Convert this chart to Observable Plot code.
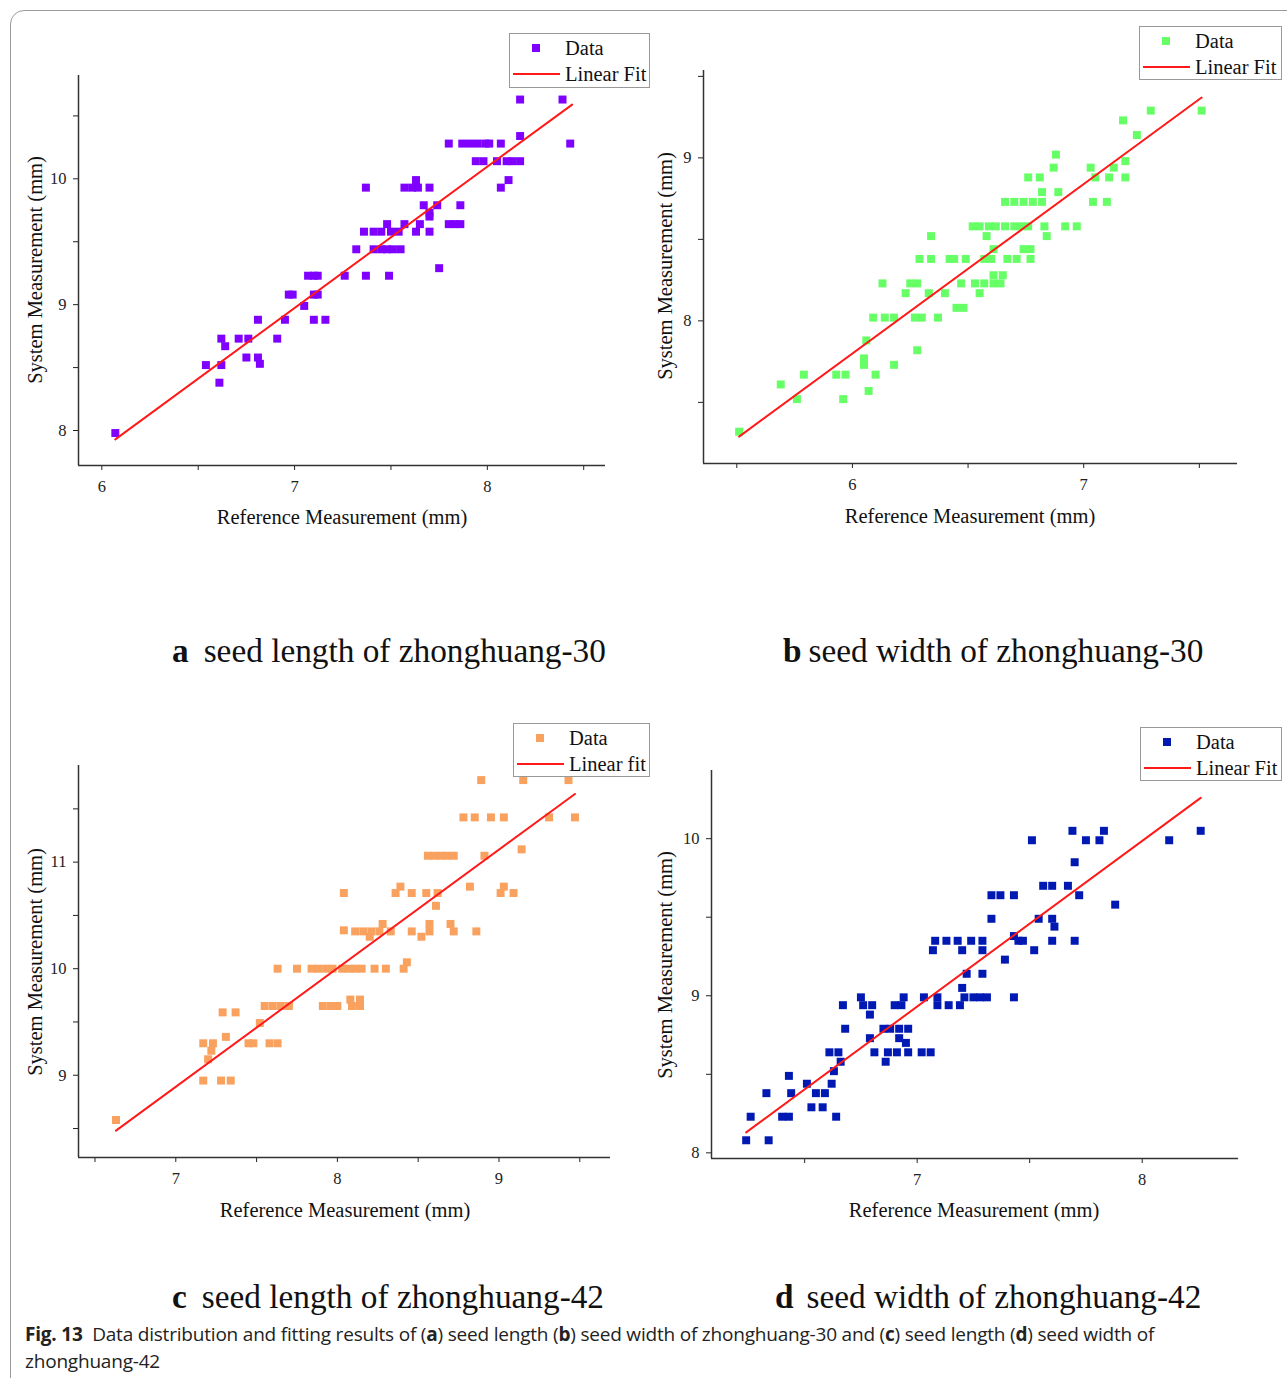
<!DOCTYPE html>
<html>
<head>
<meta charset="utf-8">
<script src="https://cdn.jsdelivr.net/npm/d3@7"></script>
<script src="https://cdn.jsdelivr.net/npm/@observablehq/plot@0.6"></script>
<style>
  html, body { margin: 0; padding: 0; background: #fff; }
  body { width: 1287px; height: 1378px; position: relative; overflow: hidden; }
  .abs { position: absolute; }
  .serif { font-family: "Liberation Serif", "Times New Roman", serif; color: #111; }
  .ctr { transform: translate(-50%, -50%); white-space: nowrap; }
  .legend { position: absolute; border: 1px solid #999; background: #fff; box-sizing: border-box; }
  .plotwrap svg { background: transparent !important; max-width: none !important; overflow: visible !important; }
  .plotwrap svg text { font-family: "Liberation Serif", "Times New Roman", serif !important; font-size: 16.5px !important; fill: #222; }
</style>
</head>
<body>
<div class="abs" style="left:10px;top:10px;width:1300px;height:1400px;border:1px solid #9a9a9a;border-radius:14px;box-sizing:border-box;"></div>
<script>
// ---------------- DATA ----------------
// Panel a: seed length of zhonghuang-30
const aRef = [6.07,6.54,6.62,6.64,6.62,6.61,6.71,6.76,6.75,6.81,6.81,6.82,6.91,6.95,6.97,6.99,7.05,7.07,7.10,7.12,7.10,7.12,7.10,7.16,7.26,7.37,7.49,7.75,7.32,7.41,7.45,7.48,7.51,7.55,7.36,7.41,7.45,7.50,7.54,7.48,7.57,7.63,7.65,7.70,7.70,7.70,7.67,7.74,7.80,7.83,7.86,7.86,7.37,7.57,7.61,7.64,7.63,7.70,7.80,7.87,7.91,7.95,7.99,8.01,8.07,7.94,7.98,8.05,8.10,8.13,8.17,8.07,8.11,8.17,8.17,8.39,8.43];
const aSys = [7.98,8.52,8.73,8.67,8.52,8.38,8.73,8.73,8.58,8.88,8.58,8.53,8.73,8.88,9.08,9.08,8.99,9.23,9.23,9.23,9.08,9.08,8.88,8.88,9.23,9.23,9.23,9.29,9.44,9.44,9.44,9.44,9.44,9.44,9.58,9.58,9.58,9.58,9.58,9.64,9.64,9.58,9.64,9.58,9.70,9.73,9.79,9.79,9.64,9.64,9.64,9.79,9.93,9.93,9.93,9.93,9.99,9.93,10.28,10.28,10.28,10.28,10.28,10.28,10.28,10.14,10.14,10.14,10.14,10.14,10.14,9.93,9.99,10.34,10.63,10.63,10.28];
const aFitRef = [6.07, 8.44];
const aFitSys = [7.93, 10.59];
const aXTicks = [6, 6.5, 7, 7.5, 8, 8.5];
const aYTicks = [8, 8.5, 9, 9.5, 10, 10.5];

// Panel b: seed width of zhonghuang-30
const bRef = [5.51,5.69,5.76,5.79,5.93,5.97,5.96,6.05,6.05,6.06,6.07,6.10,6.18,6.09,6.14,6.18,6.27,6.30,6.37,6.28,6.13,6.23,6.25,6.28,6.33,6.40,6.29,6.34,6.34,6.42,6.44,6.49,6.47,6.45,6.48,6.55,6.53,6.57,6.61,6.64,6.61,6.65,6.57,6.60,6.67,6.71,6.77,6.74,6.77,6.61,6.58,6.52,6.55,6.59,6.62,6.66,6.70,6.73,6.76,6.83,6.84,6.92,6.97,6.66,6.70,6.74,6.78,6.82,6.82,6.89,6.76,6.81,6.87,6.88,7.03,7.05,7.04,7.10,7.11,7.13,7.18,7.18,7.23,7.17,7.29,7.51];
const bSys = [7.32,7.61,7.52,7.67,7.67,7.67,7.52,7.77,7.73,7.88,7.57,7.67,7.73,8.02,8.02,8.02,8.02,8.02,8.02,7.82,8.23,8.17,8.23,8.23,8.17,8.17,8.38,8.38,8.52,8.38,8.38,8.38,8.23,8.08,8.08,8.17,8.23,8.23,8.23,8.23,8.28,8.28,8.38,8.38,8.38,8.38,8.38,8.44,8.44,8.44,8.52,8.58,8.58,8.58,8.58,8.58,8.58,8.58,8.58,8.58,8.52,8.58,8.58,8.73,8.73,8.73,8.73,8.73,8.79,8.79,8.88,8.88,8.94,9.02,8.94,8.88,8.73,8.73,8.88,8.94,8.98,8.88,9.14,9.23,9.29,9.29];
const bFitRef = [5.51, 7.51];
const bFitSys = [7.29, 9.37];
const bXTicks = [5.5, 6, 6.5, 7, 7.5];
const bYTicks = [7.5, 8, 8.5, 9, 9.5];

// Panel c: seed length of zhonghuang-42
const cRef = [6.63,7.17,7.28,7.34,7.17,7.23,7.22,7.20,7.31,7.29,7.37,7.45,7.48,7.52,7.58,7.63,7.55,7.60,7.65,7.70,7.91,7.96,8.00,7.63,7.75,7.84,7.88,7.93,7.97,8.03,8.07,8.11,8.15,8.04,8.04,8.08,8.14,8.09,8.14,8.23,8.30,8.41,8.43,8.11,8.16,8.21,8.26,8.33,8.20,8.28,8.46,8.52,8.57,8.57,8.70,8.72,8.86,8.36,8.39,8.46,8.55,8.62,8.61,8.82,9.01,9.03,9.09,8.56,8.60,8.64,8.68,8.72,8.91,9.14,8.78,8.85,8.95,9.03,9.31,9.47,8.89,9.15,9.43];
const cSys = [8.58,8.95,8.95,8.95,9.30,9.30,9.23,9.15,9.36,9.59,9.59,9.30,9.30,9.49,9.30,9.30,9.65,9.65,9.65,9.65,9.65,9.65,9.65,10.00,10.00,10.00,10.00,10.00,10.00,10.00,10.00,10.00,10.00,10.36,10.71,9.71,9.71,9.65,9.65,10.00,10.00,10.00,10.06,10.35,10.35,10.35,10.35,10.35,10.30,10.42,10.35,10.30,10.42,10.35,10.42,10.35,10.35,10.71,10.77,10.71,10.71,10.71,10.59,10.77,10.71,10.77,10.71,11.06,11.06,11.06,11.06,11.06,11.06,11.12,11.42,11.42,11.42,11.42,11.42,11.42,11.77,11.77,11.77];
const cFitRef = [6.63, 9.47];
const cFitSys = [8.48, 11.64];
const cXTicks = [6.5, 7, 7.5, 8, 8.5, 9, 9.5];
const cYTicks = [8.5, 9, 9.5, 10, 10.5, 11, 11.5];

// Panel d: seed width of zhonghuang-42
const dRef = [6.24,6.34,6.26,6.33,6.40,6.43,6.43,6.44,6.51,6.53,6.55,6.59,6.58,6.64,6.62,6.63,6.66,6.61,6.65,6.68,6.67,6.75,6.76,6.80,6.79,6.79,6.81,6.87,6.86,6.85,6.88,6.91,6.90,6.93,6.94,6.92,6.96,6.92,6.95,6.96,7.02,7.06,7.03,7.09,7.09,7.14,7.19,7.20,7.22,7.07,7.08,7.13,7.18,7.20,7.21,7.25,7.28,7.31,7.43,7.29,7.29,7.24,7.29,7.39,7.43,7.45,7.47,7.52,7.60,7.70,7.33,7.54,7.60,7.61,7.33,7.37,7.43,7.88,7.56,7.60,7.67,7.72,7.70,7.51,7.69,7.75,7.81,7.83,8.12,8.26];
const dSys = [8.08,8.08,8.23,8.38,8.23,8.23,8.49,8.38,8.44,8.29,8.38,8.38,8.29,8.23,8.44,8.52,8.58,8.64,8.64,8.79,8.94,8.99,8.94,8.94,8.88,8.73,8.64,8.64,8.58,8.79,8.79,8.64,8.94,8.94,8.99,8.79,8.79,8.73,8.70,8.64,8.64,8.64,8.99,8.99,8.94,8.94,8.94,9.05,9.14,9.29,9.35,9.35,9.35,9.29,8.99,8.99,8.99,8.99,8.99,9.14,9.29,9.35,9.35,9.23,9.38,9.35,9.35,9.29,9.35,9.35,9.49,9.49,9.49,9.44,9.64,9.64,9.64,9.58,9.70,9.70,9.70,9.64,9.85,9.99,10.05,9.99,9.99,10.05,9.99,10.05];
const dFitRef = [6.24, 8.26];
const dFitSys = [8.13, 10.26];
const dXTicks = [6.5, 7, 7.5, 8];
const dYTicks = [8, 8.5, 9, 9.5, 10];

const panelLetters = ["a", "b", "c", "d"];
const panelTitles = ["seed length of zhonghuang-30", "seed width of zhonghuang-30", "seed length of zhonghuang-42", "seed width of zhonghuang-42"];
const legendFitLabels = ["Linear Fit", "Linear Fit", "Linear fit", "Linear Fit"];
const xTitle = "Reference Measurement (mm)";
const yTitle = "System Measurement (mm)";

// ---------------- LAYOUT ----------------
const panels = [
  {ref: aRef, sys: aSys, fr: aFitRef, fs: aFitSys, xt: aXTicks, yt: aYTicks, color: "#7f00ff",
   box: {left: 0, top: 60, width: 640, height: 480, ml: 78, mr: 35, mt: 15, mb: 75},
   xd: [5.879, 8.613], yd: [7.722, 10.821],
   xTitle: [342, 517], yTitle: [35, 270],
   title: {x: 172, y: 651, gap: 15}, legend: {l: 509, t: 33, w: 141, h: 55}},
  {ref: bRef, sys: bSys, fr: bFitRef, fs: bFitSys, xt: bXTicks, yt: bYTicks, color: "#66ff66",
   box: {left: 640, top: 60, width: 647, height: 480, ml: 63, mr: 50, mt: 10, mb: 77},
   xd: [5.356, 7.665], yd: [7.125, 9.536],
   xTitle: [970, 516], yTitle: [665, 266],
   title: {x: 783, y: 651, gap: 7}, legend: {l: 1139, t: 26, w: 143, h: 54}},
  {ref: cRef, sys: cSys, fr: cFitRef, fs: cFitSys, xt: cXTicks, yt: cYTicks, color: "#f9a25f",
   box: {left: 0, top: 750, width: 640, height: 480, ml: 78, mr: 30, mt: 15, mb: 73},
   xd: [6.398, 9.69], yd: [8.228, 11.907],
   xTitle: [345, 1210], yTitle: [35, 962],
   title: {x: 172, y: 1297, gap: 15}, legend: {l: 513, t: 723, w: 137, h: 54}},
  {ref: dRef, sys: dSys, fr: dFitRef, fs: dFitSys, xt: dXTicks, yt: dYTicks, color: "#0019b3",
   box: {left: 640, top: 750, width: 647, height: 480, ml: 71, mr: 49, mt: 20, mb: 72},
   xd: [6.086, 8.428], yd: [7.964, 10.434],
   xTitle: [974, 1210], yTitle: [665, 965],
   title: {x: 775, y: 1297, gap: 13}, legend: {l: 1140, t: 727, w: 142, h: 54}}
];

const fmt = d => Number.isInteger(d) ? String(d) : "";
const serif = '"Liberation Serif", "Times New Roman", serif';

function addText(html, cx, cy, size, extra = "") {
  const el = document.createElement("div");
  el.className = "abs serif ctr";
  el.style.cssText += `left:${cx}px;top:${cy}px;font-size:${size}px;${extra}`;
  el.innerHTML = html;
  document.body.appendChild(el);
  return el;
}

panels.forEach((p, i) => {
  const pts = p.ref.map((x, k) => ({x, y: p.sys[k]}));
  const fit = p.fr.map((x, k) => ({x, y: p.fs[k]}));
  const b = p.box;
  const chart = Plot.plot({
    width: b.width, height: b.height,
    marginLeft: b.ml, marginRight: b.mr, marginTop: b.mt, marginBottom: b.mb,
    style: {fontFamily: serif, fontSize: "16.5px", color: "#222", background: "transparent", overflow: "visible"},
    x: {domain: p.xd, ticks: p.xt, tickFormat: fmt, tickSize: 5, tickPadding: 10, label: null},
    y: {domain: p.yd, ticks: p.yt, tickFormat: fmt, tickSize: 5, tickPadding: 7, label: null},
    marks: [
      Plot.ruleX([p.xd[0]], {stroke: "#333", strokeWidth: 1.5}),
      Plot.ruleY([p.yd[0]], {stroke: "#333", strokeWidth: 1.5}),
      Plot.dot(pts, {x: "x", y: "y", symbol: "square", r: 4.5, fill: p.color, stroke: "none"}),
      Plot.line(fit, {x: "x", y: "y", stroke: "#ff1a1a", strokeWidth: 2})
    ]
  });
  const wrap = document.createElement("div");
  wrap.className = "abs plotwrap";
  wrap.style.cssText += `left:${b.left}px;top:${b.top}px;width:${b.width}px;height:${b.height}px;`;
  wrap.appendChild(chart);
  document.body.appendChild(wrap);

  // axis titles
  addText(xTitle, p.xTitle[0], p.xTitle[1], 20.5);
  const yt = addText(yTitle, p.yTitle[0], p.yTitle[1], 20.5);
  yt.style.transform = "translate(-50%, -50%) rotate(-90deg)";

  // panel title
  const t = document.createElement("div");
  t.className = "abs serif";
  t.style.cssText += `left:${p.title.x}px;top:${p.title.y}px;font-size:33.3px;white-space:nowrap;transform:translateY(-50%);line-height:1;`;
  t.innerHTML = `<b style="display:inline-block;margin-right:${p.title.gap}px">${panelLetters[i]}</b>${panelTitles[i]}`;
  document.body.appendChild(t);

  // legend
  const L = p.legend;
  const lg = document.createElement("div");
  lg.className = "legend serif";
  lg.style.cssText += `left:${L.l}px;top:${L.t}px;width:${L.w}px;height:${L.h}px;font-size:20.5px;`;
  lg.innerHTML =
    `<div class="abs" style="left:22px;top:10px;width:8px;height:8px;background:${p.color}"></div>` +
    `<div class="abs" style="left:55px;top:14px;transform:translateY(-50%);line-height:1;white-space:nowrap">Data</div>` +
    `<div class="abs" style="left:3px;top:39px;width:47px;height:2px;background:#ff1a1a"></div>` +
    `<div class="abs" style="left:55px;top:40px;transform:translateY(-50%);line-height:1;white-space:nowrap">${legendFitLabels[i]}</div>`;
  document.body.appendChild(lg);
});

// caption
const cap = document.createElement("div");
cap.className = "abs";
cap.style.cssText += 'left:25px;top:1321px;font-family:"Open Sans","Noto Sans",sans-serif;font-size:19px;line-height:27px;color:#222;white-space:nowrap;letter-spacing:-0.2px;';
cap.innerHTML = '<b>Fig. 13</b>&nbsp; Data distribution and fitting results of (<b>a</b>) seed length (<b>b</b>) seed width of zhonghuang-30 and (<b>c</b>) seed length (<b>d</b>) seed width of<br>zhonghuang-42';
document.body.appendChild(cap);
</script>
</body>
</html>
